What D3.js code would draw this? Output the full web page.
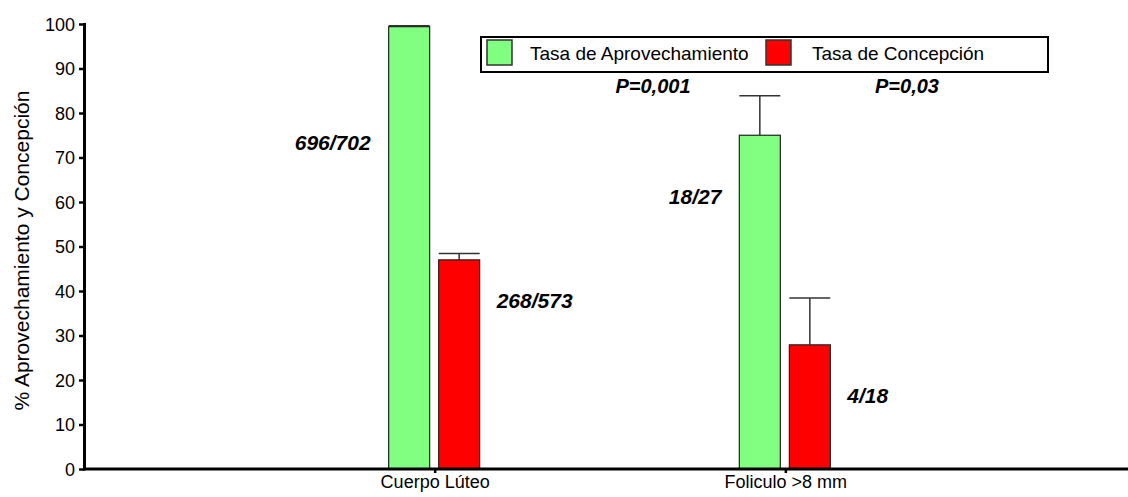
<!DOCTYPE html>
<html>
<head>
<meta charset="utf-8">
<script src="https://cdn.jsdelivr.net/npm/d3@7"></script>
<style>
  body { margin: 0; background: #fff; }
  svg { display: block; font-family: Arial, "Liberation Sans", sans-serif; }
</style>
</head>
<body>
<div id="chart"></div>
<script>
// data
const categories = ['Cuerpo Lúteo', 'Foliculo >8 mm'];
const seriesNames = ['Tasa de Aprovechamiento', 'Tasa de Concepción'];
const aprovechamiento = [99.4, 75.0];
const aprovechamientoErr = [0.2, 8.9];
const concepcion = [47.0, 27.9];
const concepcionErr = [1.4, 10.5];
const aprovechamientoRatio = ['696/702', '18/27'];
const concepcionRatio = ['268/573', '4/18'];
const pValues = ['P=0,001', 'P=0,03'];
const yTicks = [0, 10, 20, 30, 40, 50, 60, 70, 80, 90, 100];

const colors = ['#80ff80', '#ff0000'];

class groupedBars {

  constructor(_config) {
    this.config = {
      parentElement: _config.parentElement,
      containerWidth: 1128,
      containerHeight: 497,
      margin: {top: 24, right: 0, bottom: 28, left: 84}
    };
    this.initVis();
  }

  initVis() {
    let vis = this;
    vis.width = vis.config.containerWidth - vis.config.margin.left - vis.config.margin.right;
    vis.height = 469 - vis.config.margin.top;

    vis.svg = d3.select(vis.config.parentElement).append('svg')
      .attr('width', vis.config.containerWidth)
      .attr('height', vis.config.containerHeight);

    vis.chart = vis.svg.append('g')
      .attr('transform', `translate(${vis.config.margin.left},${vis.config.margin.top})`);

    vis.y = d3.scaleLinear().domain([0, 100]).range([vis.height, 0]);
    vis.x = d3.scalePoint().domain(categories).range([0, 1052]).padding(1);
    vis.xSub = d3.scaleBand().domain(seriesNames).range([-46, 45]).paddingInner(0.18);

    vis.rows = categories.map((c, i) => ({
      cat: c,
      bars: [
        {s: seriesNames[0], v: aprovechamiento[i], e: aprovechamientoErr[i], lab: aprovechamientoRatio[i]},
        {s: seriesNames[1], v: concepcion[i], e: concepcionErr[i], lab: concepcionRatio[i]}
      ]
    }));

    vis.renderVis();
  }

  renderVis() {
    let vis = this;

    // bars
    const groups = vis.chart.selectAll('.grp').data(vis.rows).join('g')
      .attr('class', 'grp')
      .attr('transform', d => `translate(${vis.x(d.cat)},0)`);

    // error bars (drawn first so bar covers the stem)
    groups.selectAll('.err').data(d => d.bars).join('g')
      .attr('class', 'err')
      .each(function(d) {
        const g = d3.select(this);
        const x0 = vis.xSub(d.s), bw = vis.xSub.bandwidth();
        g.append('line')
          .attr('x1', x0 + bw / 2).attr('x2', x0 + bw / 2)
          .attr('y1', vis.y(d.v)).attr('y2', vis.y(d.v + d.e))
          .attr('stroke', '#333').attr('stroke-width', 1.5);
        g.append('line')
          .attr('x1', x0).attr('x2', x0 + bw)
          .attr('y1', vis.y(d.v + d.e)).attr('y2', vis.y(d.v + d.e))
          .attr('stroke', '#333').attr('stroke-width', 1.5);
      });

    groups.selectAll('rect').data(d => d.bars).join('rect')
      .attr('x', d => vis.xSub(d.s))
      .attr('y', d => vis.y(d.v))
      .attr('width', vis.xSub.bandwidth())
      .attr('height', d => vis.y(0) - vis.y(d.v))
      .attr('fill', (d, i) => colors[i])
      .attr('stroke', '#222')
      .attr('stroke-width', 1.2);

    // ratio labels
    const labelAt = [[71.7, 36.2], [59.6, 14.8]];
    groups.selectAll('.ratio').data((d, gi) => d.bars.map((b, i) => ({...b, i, at: labelAt[gi][i]}))).join('text')
      .attr('class', 'ratio')
      .attr('x', d => d.i === 0 ? vis.xSub(d.s) - 18 : vis.xSub(d.s) + vis.xSub.bandwidth() + 17)
      .attr('y', d => vis.y(d.at))
      .attr('text-anchor', d => d.i === 0 ? 'end' : 'start')
      .style('font-size', '21px')
      .style('font-weight', 'bold')
      .style('font-style', 'italic')
      .text(d => d.lab);

    // y axis
    const yAxis = vis.chart.append('g')
      .call(d3.axisLeft(vis.y).tickValues(yTicks).tickSize(5).tickPadding(4).tickSizeOuter(0));
    yAxis.select('.domain').remove();
    yAxis.selectAll('.tick line').attr('stroke', '#000').attr('stroke-width', 2.5);
    yAxis.selectAll('.tick text').style('font-size', '18px').attr('fill', '#000').attr('dy', '0.34em');
    vis.chart.append('line')
      .attr('x1', 0.5).attr('x2', 0.5).attr('y1', -1).attr('y2', vis.height + 1.5)
      .attr('stroke', '#000').attr('stroke-width', 3);

    // x axis
    const xAxis = vis.chart.append('g')
      .attr('transform', `translate(0,${vis.height})`)
      .call(d3.axisBottom(vis.x).tickSize(4).tickPadding(2).tickSizeOuter(0));
    xAxis.select('.domain').remove();
    xAxis.selectAll('.tick line').attr('stroke', '#000').attr('stroke-width', 2.5);
    xAxis.selectAll('.tick text').style('font-size', '18px').attr('fill', '#000');
    vis.chart.append('line')
      .attr('x1', -1).attr('x2', vis.width).attr('y1', vis.height).attr('y2', vis.height)
      .attr('stroke', '#000').attr('stroke-width', 3);

    // y axis title
    vis.svg.append('text')
      .attr('transform', `translate(29,${vis.config.margin.top + vis.height / 2 + 4}) rotate(-90)`)
      .attr('text-anchor', 'middle')
      .style('font-size', '21px')
      .text('% Aprovechamiento y Concepción');

    // legend
    const legend = vis.svg.append('g').attr('transform', 'translate(481,37)');
    legend.append('rect')
      .attr('width', 567).attr('height', 35)
      .attr('fill', 'none').attr('stroke', '#000').attr('stroke-width', 2);
    const legX = [6, 285];
    const items = legend.selectAll('.leg').data(seriesNames).join('g')
      .attr('class', 'leg')
      .attr('transform', (d, i) => `translate(${legX[i]},3)`);
    items.append('rect')
      .attr('width', 25).attr('height', 25)
      .attr('fill', (d, i) => colors[i])
      .attr('stroke', '#333').attr('stroke-width', 1.5);
    items.append('text')
      .attr('x', (d, i) => i === 0 ? 43 : 46)
      .attr('y', 20)
      .style('font-size', '19px')
      .text(d => d);

    // p-values
    const pX = [653, 907];
    vis.svg.selectAll('.pval').data(pValues).join('text')
      .attr('class', 'pval')
      .attr('x', (d, i) => pX[i])
      .attr('y', 93)
      .attr('text-anchor', 'middle')
      .style('font-size', '20px')
      .style('font-weight', 'bold')
      .style('font-style', 'italic')
      .text(d => d);
  }
}

new groupedBars({parentElement: '#chart'});
</script>
</body>
</html>
